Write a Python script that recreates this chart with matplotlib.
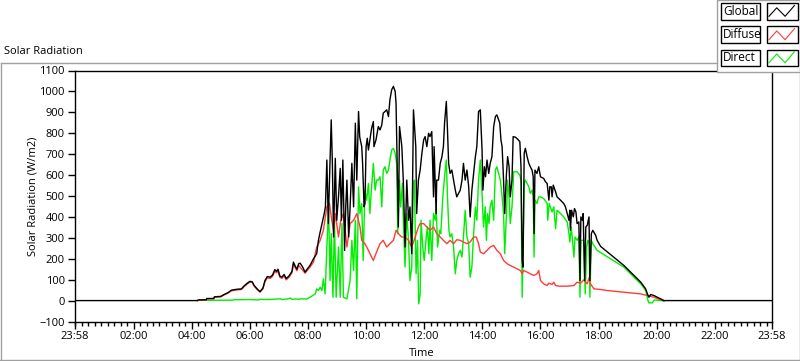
import matplotlib
matplotlib.use('Agg')
import matplotlib.pyplot as plt
from matplotlib.patches import Rectangle
from matplotlib.lines import Line2D
from matplotlib.ticker import FixedLocator, MultipleLocator

plt.rcParams['font.family'] = ['Open Sans', 'DejaVu Sans']

# ---------------- data (time in decimal hours, value in W/m2) ----------------
global_t = [-0.033, 4.20, 4.22, 4.50, 4.52, 4.76, 4.78, 5.00, 5.10, 5.25, 5.37, 5.55, 5.71, 5.80, 5.90,
            6.00, 6.08, 6.15, 6.25, 6.35, 6.45, 6.52, 6.60, 6.70, 6.78, 6.86, 6.92, 6.97, 7.03, 7.10,
            7.18, 7.25, 7.35, 7.45, 7.50, 7.56, 7.62, 7.68,
            7.73, 7.82, 7.90, 7.98, 8.07, 8.19, 8.30, 8.36, 8.42, 8.51, 8.56, 8.60, 8.65, 8.70, 8.74,
            8.80, 8.84, 8.88, 8.94, 8.99, 9.05, 9.11, 9.15, 9.20, 9.26, 9.30, 9.34, 9.40, 9.45, 9.51,
            9.57, 9.63, 9.68, 9.74, 9.78,
            9.79, 9.85, 9.88, 9.93, 9.96, 10.00, 10.04, 10.08, 10.13, 10.19, 10.25, 10.27, 10.34, 10.42,
            10.48, 10.54, 10.59, 10.65, 10.71, 10.77, 10.82, 10.88, 10.94, 11.00, 11.03, 11.08, 11.11,
            11.15, 11.23, 11.28, 11.34, 11.40, 11.46, 11.51, 11.57, 11.63, 11.71, 11.74, 11.80,
            11.86, 11.92, 11.98, 12.03, 12.09, 12.15, 12.20, 12.26, 12.32, 12.34, 12.41, 12.43, 12.49,
            12.55, 12.61, 12.66, 12.70, 12.76, 12.80, 12.84, 12.89, 12.95, 13.01, 13.07, 13.12, 13.18,
            13.24, 13.30, 13.35, 13.41, 13.47, 13.53, 13.58, 13.64, 13.70, 13.76, 13.81, 13.87,
            13.93, 13.99, 14.02, 14.07, 14.11, 14.16, 14.22, 14.27, 14.33, 14.39, 14.45, 14.50, 14.56,
            14.60, 14.64, 14.68, 14.73, 14.77, 14.83, 14.87, 14.92, 14.96, 15.02, 15.06, 15.14, 15.22,
            15.29, 15.33, 15.37, 15.40, 15.44, 15.48, 15.54, 15.60, 15.65, 15.71, 15.75, 15.78, 15.81,
            15.88, 15.94,
            16.00, 16.11, 16.17, 16.23, 16.29, 16.32, 16.37, 16.40, 16.44, 16.52, 16.57, 16.69, 16.80,
            16.86, 16.92, 16.98, 17.01, 17.03, 17.07, 17.13, 17.17, 17.22, 17.26, 17.32, 17.36, 17.39,
            17.44, 17.47, 17.52, 17.56, 17.61, 17.67, 17.70, 17.75, 17.80, 17.90, 17.95, 18.07, 18.87,
            19.45, 19.62, 19.68, 19.73, 19.79, 19.91, 20.02, 20.14, 20.25, 23.967]
global_v = [0, 0, 3, 4, 10, 10, 18, 20, 28, 38, 50, 54, 56, 70, 82,
            92, 90, 72, 56, 43, 60, 96, 115, 112, 122, 148, 140, 150, 118, 112,
            125, 105, 118, 140, 184, 165, 150, 176,
            179, 160, 136, 152, 168, 200, 224, 288, 328, 384, 416, 448, 672, 368, 576,
            864, 656, 304, 680, 384, 496, 632, 384, 672, 240, 448, 576, 304, 448, 656,
            448, 848, 576, 904, 784,
            776, 736, 656, 448, 464, 736, 776, 720, 768, 824, 856, 736, 768, 832,
            816, 840, 896, 904, 912, 880, 960, 1008, 1024, 1000, 944, 576, 352,
            832, 736, 576, 256, 576, 384, 448, 224, 912, 736, 416, 576,
            624, 704, 768, 784, 736, 800, 784, 808, 496, 736, 416, 576, 576,
            656, 688, 736, 848, 952, 816, 656, 608, 624, 576, 528, 496, 512,
            528, 576, 656, 576, 624, 544, 400, 528, 608, 688, 736, 904,
            912, 720, 528, 640, 592, 672, 608, 656, 688, 832, 880, 888, 864,
            848, 768, 736, 576, 416, 608, 688, 640, 496, 576, 784, 781, 771,
            760, 640, 192, 160, 704, 728, 688, 656, 640, 624, 592, 320, 624,
            608, 640,
            592, 584, 568, 560, 480, 544, 544, 496, 552, 520, 496, 480, 464,
            448, 416, 384, 432, 336, 432, 400, 440, 424, 368, 376, 96, 400,
            384, 416, 96, 352, 360, 400, 96, 320, 336, 312, 288, 259, 168,
            88, 56, 32, 16, 29, 24, 16, 8, 0, 0]

diffuse_t = [4.20, 4.22, 4.50, 4.52, 4.76, 4.78, 5.00, 5.10, 5.25, 5.37, 5.55, 5.71, 5.80, 5.90, 6.00,
             6.08, 6.15, 6.25, 6.35, 6.45, 6.52, 6.60, 6.70, 6.78, 6.86, 6.92, 6.97, 7.03, 7.10, 7.18,
             7.25, 7.35, 7.45, 7.50, 7.56, 7.62, 7.68,
             7.73, 7.90, 8.07, 8.19, 8.30, 8.42, 8.53, 8.65, 8.74, 8.82, 8.88, 8.94, 9.05, 9.13, 9.22,
             9.34, 9.45, 9.57, 9.68,
             9.79, 9.85, 9.96, 10.08, 10.19, 10.25, 10.36, 10.48, 10.59, 10.71, 10.82, 10.94, 11.03,
             11.11, 11.23, 11.34, 11.46, 11.57, 11.69, 11.80,
             11.86, 11.98, 12.09, 12.20, 12.32, 12.43, 12.55, 12.66, 12.78, 12.89, 13.01, 13.12, 13.24,
             13.35, 13.47, 13.58, 13.70, 13.79, 13.87,
             13.93, 14.04, 14.16, 14.27, 14.39, 14.50, 14.62, 14.73, 14.85, 14.96, 15.08, 15.19, 15.31,
             15.37, 15.42, 15.54, 15.65, 15.77, 15.88, 15.94,
             16.00, 16.11, 16.23, 16.29, 16.40, 16.46, 16.52, 16.63, 16.92, 17.15, 17.26, 17.38, 17.49,
             17.61, 17.67, 17.72, 17.84, 18.07, 18.30, 18.87, 19.45, 19.68, 19.91, 20.14, 20.25]
diffuse_v = [0, 2, 3, 8, 9, 16, 18, 26, 36, 47, 51, 53, 66, 78, 88,
             87, 69, 53, 40, 56, 90, 108, 106, 116, 140, 133, 142, 112, 106, 118,
             99, 112, 133, 175, 158, 143, 168,
             160, 131, 160, 184, 256, 288, 336, 448, 464, 384, 336, 416, 304, 384, 416,
             256, 368, 384, 416,
             352, 288, 272, 240, 208, 192, 232, 272, 288, 256, 272, 288, 336,
             320, 304, 304, 288, 256, 304, 352,
             368, 368, 352, 336, 352, 320, 304, 288, 272, 288, 272, 291, 288,
             280, 272, 280, 304, 304, 272,
             232, 224, 240, 256, 264, 240, 224, 192, 176, 168, 160, 152, 144,
             128, 144, 136, 128, 120, 128, 144,
             96, 80, 72, 83, 77, 88, 72, 69, 69, 72, 88, 83, 99,
             80, 109, 80, 56, 53, 48, 40, 32, 24, 16, 3, 0]

direct_t = [4.20, 4.25, 5.40, 5.45, 6.00, 6.30, 6.35, 6.60, 6.90, 7.05, 7.10, 7.30, 7.40, 7.45, 7.60, 7.70,
            7.73, 7.96, 8.07, 8.25, 8.30, 8.36, 8.42, 8.48, 8.53, 8.59, 8.65, 8.71, 8.76, 8.80, 8.86,
            8.91, 8.97, 9.05, 9.11, 9.17, 9.22, 9.34, 9.45, 9.51, 9.57, 9.63, 9.68, 9.74,
            9.79, 9.85, 9.90, 9.96, 10.02, 10.08, 10.13, 10.19, 10.25, 10.31, 10.36, 10.42, 10.48,
            10.54, 10.59, 10.65, 10.71, 10.77, 10.82, 10.88, 10.94, 11.00, 11.05, 11.09, 11.15, 11.19,
            11.25, 11.28, 11.34, 11.40, 11.46, 11.51, 11.57, 11.63, 11.66, 11.72, 11.77, 11.81,
            11.86, 11.89, 11.95, 12.00, 12.07, 12.11, 12.16, 12.20, 12.26, 12.32, 12.38, 12.41, 12.46,
            12.53, 12.57, 12.64, 12.71, 12.76, 12.80, 12.85, 12.89, 12.95, 13.01, 13.07, 13.12, 13.18,
            13.24, 13.30, 13.35, 13.41, 13.47, 13.53, 13.58, 13.64, 13.70, 13.76, 13.81, 13.87,
            13.93, 13.99, 14.04, 14.10, 14.14, 14.18, 14.23, 14.27, 14.33, 14.39, 14.45, 14.50, 14.56,
            14.62, 14.68, 14.73, 14.77, 14.83, 14.87, 14.92, 14.96, 15.02, 15.08, 15.19, 15.29, 15.33,
            15.37, 15.40, 15.44, 15.48, 15.54, 15.60, 15.65, 15.71, 15.75, 15.78, 15.81, 15.88, 15.94,
            16.00, 16.11, 16.23, 16.25, 16.30, 16.34, 16.40, 16.46, 16.52, 16.57, 16.69, 16.80, 16.92,
            16.98, 17.01, 17.06, 17.15, 17.19, 17.26, 17.32, 17.36, 17.39, 17.49, 17.54, 17.59, 17.63,
            17.68, 17.70, 17.75, 17.80, 17.95, 18.87, 19.45, 19.62, 19.70, 19.73, 19.85, 19.91, 20.14,
            20.25]
direct_v = [0, 1, 2, 4, 5, 3, 6, 5, 7, 9, 5, 8, 12, 6, 8, 6,
            8, 8, 16, 32, 56, 48, 64, 48, 104, 32, 256, 448, 96, 320, 16,
            384, 16, 256, 16, 368, 16, 8, 96, 288, 144, 384, 8, 544,
            416, 464, 192, 528, 480, 560, 416, 544, 656, 528, 576, 576, 592,
            448, 624, 640, 608, 624, 672, 720, 728, 704, 656, 320, 576, 448,
            560, 384, 160, 416, 288, 96, 160, 544, 576, 128, 288, -16,
            32, 384, 256, 192, 304, 352, 224, 384, 192, 416, 384, 448, 256,
            336, 320, 496, 608, 672, 496, 336, 304, 320, 256, 128, 192, 224,
            240, 208, 304, 432, 304, 272, 112, 160, 320, 448, 384, 576,
            672, 512, 352, 448, 288, 416, 368, 448, 480, 384, 624, 640, 608,
            576, 496, 416, 224, 416, 576, 496, 368, 448, 616, 616, 600, 576,
            16, 256, 560, 576, 560, 544, 512, 528, 496, 208, 480, 464, 496,
            496, 488, 464, 384, 464, 448, 424, 448, 344, 432, 416, 400, 376,
            320, 280, 352, 208, 304, 288, 304, 16, 288, 288, 32, 256, 288,
            272, 16, 288, 272, 240, 160, 80, 48, 0, -11, -11, 3, 0,
            -3]

series_names = ['Global', 'Diffuse', 'Direct']
series_colors = ['#000000', '#ff3b3b', '#00ee00']

x_min, x_max = -2 / 60, 24 - 2 / 60
x_major = [x_min, 2, 4, 6, 8, 10, 12, 14, 16, 18, 20, 22, x_max]
x_labels = ['23:58', '02:00', '04:00', '06:00', '08:00', '10:00', '12:00', '14:00',
            '16:00', '18:00', '20:00', '22:00', '23:58']
y_ticks = list(range(-100, 1101, 100))

# ---------------- figure ----------------
W, H = 800, 361
fig = plt.figure(figsize=(W / 100, H / 100), dpi=100)
fig.patch.set_facecolor('white')


def fx(x):
    return x / W


def fy(y):
    return 1 - y / H


ax = fig.add_axes([fx(74.5), fy(321.5), fx(772) - fx(74.5), fy(70.5) - fy(321.5)])
ax.set_facecolor('white')

ax.plot(direct_t, direct_v, color=series_colors[2], lw=1.0, zorder=2)
ax.plot(diffuse_t, diffuse_v, color=series_colors[1], lw=1.0, zorder=3)
ax.plot(global_t, global_v, color=series_colors[0], lw=1.0, zorder=4)

ax.set_xlim(x_min, x_max)
ax.set_ylim(-100, 1100)
ax.xaxis.set_major_locator(FixedLocator(x_major))
ax.set_xticklabels(x_labels)
ax.xaxis.set_minor_locator(MultipleLocator(2 / 9))
ax.set_yticks(y_ticks)
ax.tick_params(axis='both', which='major', direction='out', length=5, width=1,
               labelsize=8, colors='black', pad=2)
ax.tick_params(axis='x', which='minor', direction='out', length=3, width=1)
for sp in ax.spines.values():
    sp.set_linewidth(1)
    sp.set_color('black')

# title / labels
fig.text(fx(4), fy(51), 'Solar Radiation', ha='left', va='center', fontsize=8)
fig.text(fx(33), fy(196), 'Solar Radiation (W/m2)', rotation=90, ha='center', va='center', fontsize=8)
fig.text(fx(422), fy(354), 'Time', ha='center', va='center', fontsize=8)

# outer frame
frame_col = '#a0a0a0'
for (x0, y0, x1, y1) in [(0.5, 62.5, 717, 62.5), (0.5, 62.5, 0.5, 360), (0, 359.5, 800, 359.5),
                         (799.5, 72, 799.5, 360)]:
    fig.add_artist(Line2D([fx(x0), fx(x1)], [fy(y0), fy(y1)], color=frame_col, lw=1,
                          transform=fig.transFigure))

# legend panel
fig.add_artist(Rectangle((fx(717), fy(72)), fx(800) - fx(717), fy(0) - fy(72),
                         transform=fig.transFigure, facecolor='white', edgecolor=frame_col, lw=1))
rows = [(3.5, 19.5), (26.5, 43), (49.5, 66)]
zig_x = [0.08, 0.33, 0.6, 0.9]
zig_y = [0.8, 0.27, 0.8, 0.13]
for (name, col, (ya, yb)) in zip(series_names, series_colors, rows):
    fig.add_artist(Rectangle((fx(720.5), fy(yb)), fx(760) - fx(720.5), fy(ya) - fy(yb),
                             transform=fig.transFigure, facecolor='white', edgecolor='black', lw=1))
    fig.text(fx(723), fy((ya + yb) / 2), name, ha='left', va='center', fontsize=8.5)
    sx0, sx1 = 766.5, 797.5
    fig.add_artist(Rectangle((fx(sx0), fy(yb)), fx(sx1) - fx(sx0), fy(ya) - fy(yb),
                             transform=fig.transFigure, facecolor='white', edgecolor='black', lw=1))
    xs = [fx(sx0 + f * (sx1 - sx0)) for f in zig_x]
    ys = [fy(ya + f * (yb - ya)) for f in zig_y]
    fig.add_artist(Line2D(xs, ys, color=col, lw=0.8, transform=fig.transFigure))

fig.savefig('out.png', dpi=100)
